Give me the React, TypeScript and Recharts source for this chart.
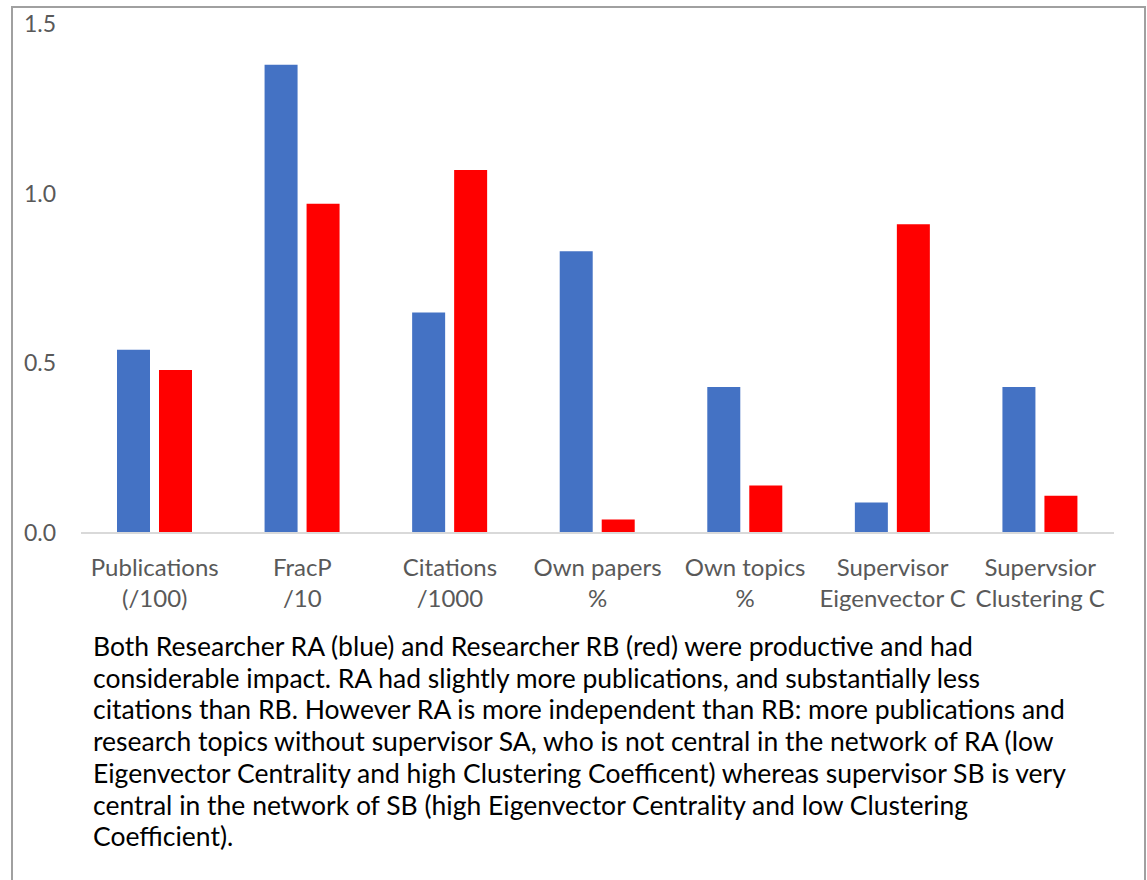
import * as React from "react"
import { BarChart, Bar, XAxis, YAxis } from "recharts"

// metric names, two lines each
const categories = [
  "Publications\n(/100)",
  "FracP\n/10",
  "Citations\n/1000",
  "Own papers\n%",
  "Own topics\n%",
  "Supervisor\nEigenvector C",
  "Supervsior\nClustering C",
]

const researcherA = [0.54, 1.38, 0.65, 0.83, 0.43, 0.09, 0.43]
const researcherB = [0.48, 0.97, 1.07, 0.04, 0.14, 0.91, 0.11]

const yTicks = [0, 0.5, 1.0, 1.5]

const captionLines = [
  "Both Researcher RA (blue) and Researcher RB (red) were productive and had",
  "considerable impact. RA had slightly more publications, and substantially less",
  "citations than RB. However RA is more independent than RB: more publications and",
  "research topics without supervisor SA, who is not central in the network of RA (low",
  "Eigenvector Centrality and high Clustering Coefficent) whereas supervisor SB is very",
  "central in the network of SB (high Eigenvector Centrality and low Clustering",
  "Coefficient).",
]

const data = categories.map((name, i) => ({
  name,
  RA: researcherA[i],
  RB: researcherB[i],
}))

const FONT = "Lato, 'Open Sans', sans-serif"
const TICK_COLOR = "#595959"

function CategoryTick(props: any) {
  const { x, y, payload } = props
  const lines = String(payload.value).split("\n")
  return (
    <g transform={`translate(${x},${y})`}>
      {lines.map((line, i) => (
        <text
          key={i}
          x={0}
          y={41 + i * 31}
          textAnchor="middle"
          fill={TICK_COLOR}
          fontSize={24}
          fontFamily={FONT}
        >
          {line}
        </text>
      ))}
    </g>
  )
}

export default function App() {
  return (
    <div
      style={{
        position: "absolute",
        left: 0,
        top: 0,
        width: 1147,
        height: 880,
        overflow: "hidden",
        background: "#fff",
        fontFamily: FONT,
      }}
    >
      <div
        style={{
          position: "absolute",
          left: 11,
          top: 6,
          width: 1131,
          height: 900,
          borderLeft: "2px solid #a0a0a0",
          borderTop: "2px solid #a0a0a0",
          borderRight: "2px solid #a0a0a0",
        }}
      />
      <div style={{ position: "absolute", left: 0, top: 0 }}>
        <BarChart
          width={1147}
          height={660}
          data={data}
          margin={{ top: 24, right: 33, bottom: 0, left: 0 }}
          barSize={33}
          barGap={9}
        >
          <XAxis
            dataKey="name"
            height={127}
            interval={0}
            tickLine={false}
            tickSize={0}
            axisLine={{ stroke: "#d9d9d9", strokeWidth: 2 }}
            tick={<CategoryTick />}
          />
          <YAxis
            width={81}
            domain={[0, 1.5]}
            ticks={yTicks}
            axisLine={false}
            tickLine={false}
            tickSize={0}
            tickMargin={25}
            tickFormatter={(v: number) => v.toFixed(1)}
            tick={{ fill: TICK_COLOR, fontSize: 23, fontFamily: FONT }}
          />
          <Bar dataKey="RA" fill="#4472C4" isAnimationActive={false} />
          <Bar dataKey="RB" fill="#FF0000" isAnimationActive={false} />
        </BarChart>
      </div>
      <div
        style={{
          position: "absolute",
          left: 93,
          top: 631,
          fontSize: 26.5,
          lineHeight: "31.7px",
          color: "#000",
          whiteSpace: "nowrap",
        }}
      >
        {captionLines.map((line, i) => (
          <div key={i}>{line}</div>
        ))}
      </div>
    </div>
  )
}
